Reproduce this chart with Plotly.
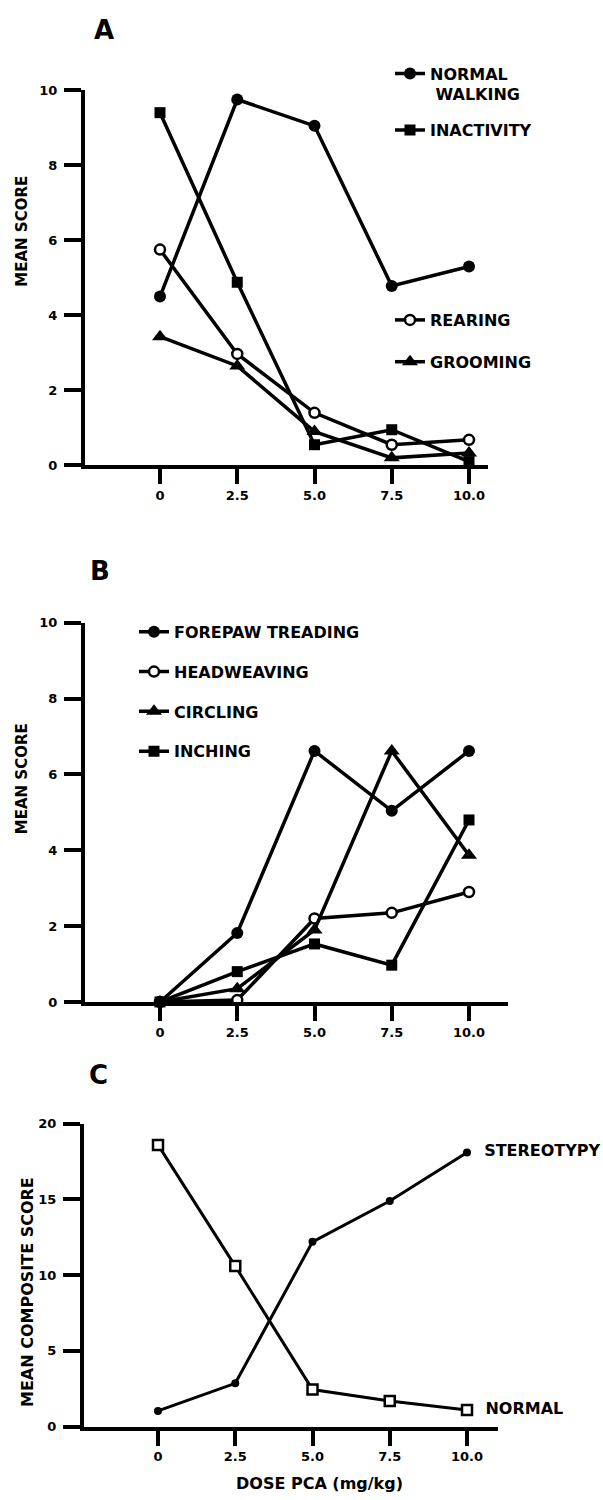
import plotly.graph_objects as go

# ---------------- data ----------------
dose = [0, 2.5, 5.0, 7.5, 10.0]
dose_ticks = ["0", "2.5", "5.0", "7.5", "10.0"]

# Panel A
normal_walking = [4.5, 9.75, 9.05, 4.78, 5.3]
inactivity = [9.4, 4.88, 0.55, 0.95, 0.1]
rearing = [5.75, 2.97, 1.4, 0.55, 0.68]
grooming = [3.43, 2.65, 0.9, 0.2, 0.33]

# Panel B
forepaw_treading = [0, 1.82, 6.62, 5.04, 6.62]
headweaving = [0, 0.05, 2.2, 2.35, 2.9]
circling = [0, 0.35, 1.9, 6.62, 3.87]
inching = [0, 0.8, 1.53, 0.97, 4.8]

# Panel C
stereotypy = [1.04, 2.86, 12.2, 14.9, 18.1]
normal = [18.6, 10.6, 2.45, 1.7, 1.1]

score_ticks_ab = [0, 2, 4, 6, 8, 10]
score_ticks_c = [0, 5, 10, 15, 20]

# ---------------- layout helpers ----------------
W, H = 603, 1500
FAM = "DejaVu Sans"


def X(px):
    return px / W


def Y(py):
    return 1 - py / H


def xrange_for(left_px, right_px, p0, p10):
    k = 10.0 / (p10 - p0)
    return [(left_px - p0) * k, (right_px - p0) * k]


def marker(sym, size, fill):
    return dict(symbol=sym, size=size, color=fill,
                line=dict(color="black", width=2.5 if fill == "white" else 0))


def trace(y, name, xa, ya, sym, size, fill, legend=None, lw=3.5, text=None):
    if text is not None:
        kw = dict(text=["", "", "", "", text], mode="lines+markers+text",
                  textposition="middle right",
                  textfont=dict(family=FAM, size=16, color="black", weight="bold"))
    else:
        kw = dict(mode="lines+markers")
    return go.Scatter(
        x=dose, y=y, name=name, xaxis=xa, yaxis=ya,
        line=dict(color="black", width=lw),
        marker=marker(sym, size, fill),
        cliponaxis=False,
        showlegend=legend is not None,
        legend=legend if legend else "legend",
        legendgroup=name,
        **kw,
    )


fig = go.Figure()
# Panel A
fig.add_trace(trace(normal_walking, "NORMAL<br> WALKING", "x", "y", "circle", 12, "black", "legend"))
fig.add_trace(trace(inactivity, "INACTIVITY", "x", "y", "square", 11, "black", "legend"))
fig.add_trace(trace(rearing, "REARING", "x", "y", "circle", 10, "white", "legend2"))
fig.add_trace(trace(grooming, "GROOMING", "x", "y", "triangle-up", 14, "black", "legend2"))
# Panel B
fig.add_trace(trace(forepaw_treading, "FOREPAW TREADING", "x2", "y2", "circle", 12, "black", "legend3"))
fig.add_trace(trace(headweaving, "HEADWEAVING", "x2", "y2", "circle", 10, "white", "legend3"))
fig.add_trace(trace(circling, "CIRCLING", "x2", "y2", "triangle-up", 14, "black", "legend3"))
fig.add_trace(trace(inching, "INCHING", "x2", "y2", "square", 11, "black", "legend3"))
# Panel C
fig.add_trace(trace(stereotypy, "STEREOTYPY", "x3", "y3", "circle", 8, "black", None, lw=3, text="  STEREOTYPY"))
fig.add_trace(trace(normal, "NORMAL", "x3", "y3", "square", 10, "white", None, lw=3, text="  NORMAL"))

tickfont = dict(family=FAM, size=13, color="black", weight="bold")


def xaxis(left, right, p0, p10, anchor):
    return dict(domain=[X(left), X(right)], range=xrange_for(left, right, p0, p10),
                anchor=anchor, showline=True, linewidth=4, linecolor="black",
                ticks="outside", ticklen=15, tickwidth=4, tickcolor="black",
                tickvals=dose, ticktext=dose_ticks, tickfont=tickfont,
                showgrid=False, zeroline=False, ticklabelstandoff=0)


def yaxis(top, bottom, rng, tv, anchor):
    return dict(domain=[Y(bottom), Y(top)], range=rng, anchor=anchor,
                showline=True, linewidth=4, linecolor="black",
                ticks="outside", ticklen=17, tickwidth=4, tickcolor="black",
                tickvals=tv, tickfont=tickfont, showgrid=False, zeroline=False,
                ticklabelstandoff=4)


legend_common = dict(bgcolor="rgba(0,0,0,0)", borderwidth=0,
                     font=dict(family=FAM, size=16, color="black", weight="bold"),
                     xanchor="left", yanchor="top", traceorder="grouped",
                     valign="top")

annot_font = dict(family=FAM, color="black", weight="bold")


def label(text, x, y, size, angle=0):
    return dict(text=text, x=X(x), y=Y(y), xref="paper", yref="paper",
                showarrow=False, xanchor="center", yanchor="middle",
                textangle=angle, font=dict(size=size, **annot_font))


fig.update_layout(
    width=W, height=H,
    margin=dict(l=0, r=0, t=0, b=0),
    paper_bgcolor="white", plot_bgcolor="white",
    font=dict(family=FAM, color="black", weight="bold"),
    xaxis=xaxis(85, 488, 160, 469, "y"),
    yaxis=yaxis(84, 463, [0, 10], score_ticks_ab, "x"),
    xaxis2=xaxis(85, 508, 160, 469, "y2"),
    yaxis2=yaxis(622, 1005, [0, 10], score_ticks_ab, "x2"),
    xaxis3=xaxis(84, 498, 158, 467, "y3"),
    yaxis3=yaxis(1128, 1434, [0, 20], score_ticks_c, "x3"),
    legend=dict(x=X(390), y=Y(50), tracegroupgap=12, **legend_common),
    legend2=dict(x=X(390), y=Y(299), tracegroupgap=18, **legend_common),
    legend3=dict(x=X(134), y=Y(614), tracegroupgap=16, **legend_common),
    annotations=[
        label("A", 104, 23, 26),
        label("B", 100, 570, 26),
        label("C", 98, 1079, 26),
        label("MEAN SCORE", 22, 227, 15, -90),
        label("MEAN SCORE", 22, 780, 15, -90),
        label("MEAN COMPOSITE SCORE", 27, 1298, 16, -90),
        label("DOSE PCA (mg/kg)", 319, 1491, 16),
    ],
)

fig.write_html("out.html", config={"displayModeBar": False},
               post_script="document.body.style.margin='0';")
